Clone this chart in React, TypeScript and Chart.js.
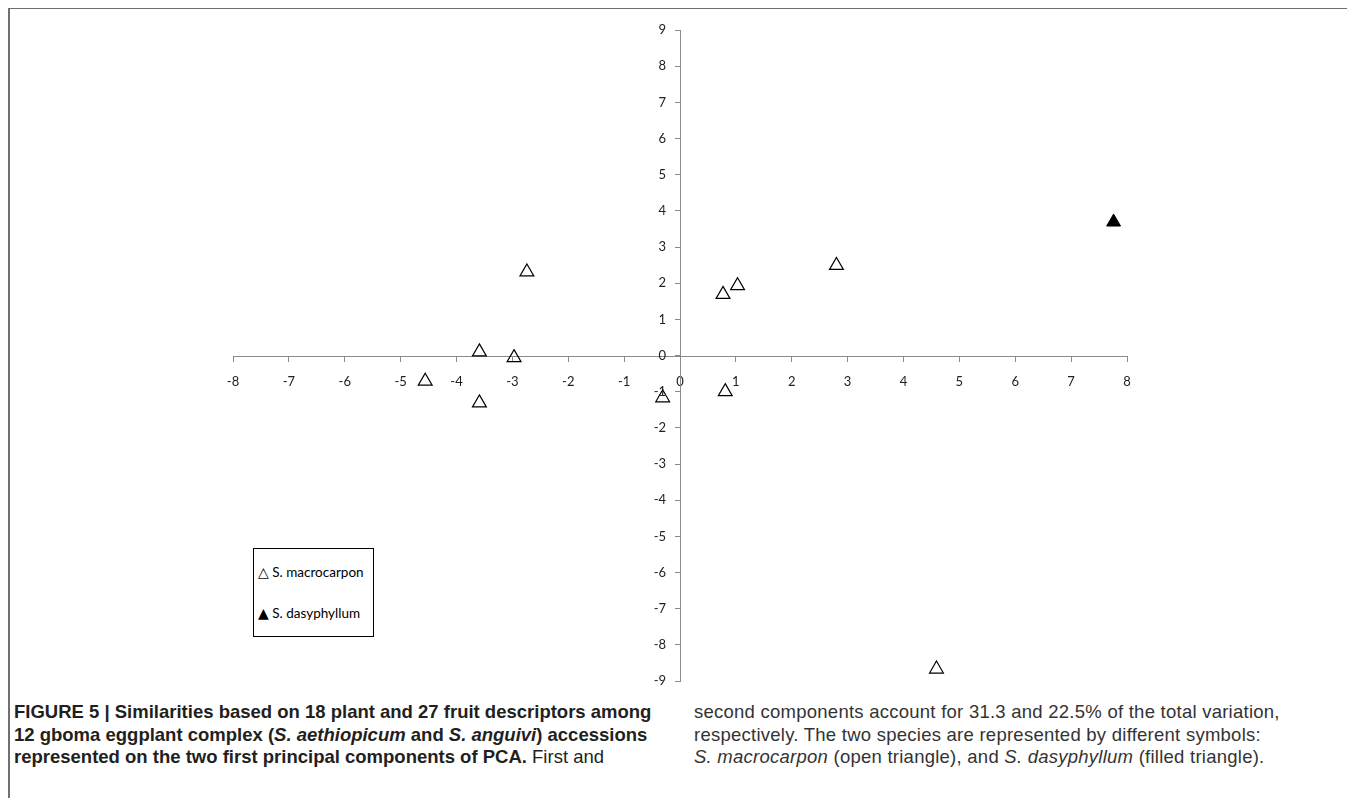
import React, { useEffect, useRef } from "react";
import { Chart, registerables } from "chart.js";

Chart.register(...registerables);

// PCA coordinates (PC1, PC2)
const macrocarponX = [-4.56, -3.59, -3.59, -2.97, -2.74, -0.31, 0.77, 1.03, 0.81, 2.8, 4.59];
const macrocarponY = [-0.71, 0.1, -1.31, -0.06, 2.31, -1.17, 1.69, 1.93, -1.0, 2.49, -8.67];
const dasyphyllumX = [7.76];
const dasyphyllumY = [3.69];

const xMin = -8;
const xMax = 8;
const yMin = -9;
const yMax = 9;

const seriesNames = ["S. macrocarpon", "S. dasyphyllum"];

const toPoints = (xs: number[], ys: number[]) => xs.map((x, i) => ({ x, y: ys[i] }));

function PcaChart() {
  const ref = useRef<HTMLCanvasElement | null>(null);
  useEffect(() => {
    if (!ref.current) return;
    const axisColor = "#8a8a8a";
    const tickFont = { family: "Lato, 'Open Sans', sans-serif", size: 13 };
    const chart = new Chart(ref.current, {
      type: "scatter",
      data: {
        datasets: [
          {
            label: seriesNames[0],
            data: toPoints(macrocarponX, macrocarponY),
            pointStyle: "triangle",
            pointRadius: 8,
            pointBackgroundColor: "rgba(255,255,255,0)",
            pointBorderColor: "#000",
            pointBorderWidth: 1.2,
          },
          {
            label: seriesNames[1],
            data: toPoints(dasyphyllumX, dasyphyllumY),
            pointStyle: "triangle",
            pointRadius: 8,
            pointBackgroundColor: "#000",
            pointBorderColor: "#000",
            pointBorderWidth: 1,
          },
        ],
      },
      options: {
        animation: false,
        responsive: false,
        maintainAspectRatio: false,
        layout: { padding: { left: 40, right: 40, top: 20, bottom: 20 } },
        plugins: { legend: { display: false }, tooltip: { enabled: false } },
        scales: {
          x: {
            type: "linear",
            position: "center",
            min: xMin,
            max: xMax,
            ticks: { stepSize: 1, color: "#222", font: tickFont, padding: 14, maxRotation: 0, autoSkip: false },
            grid: { drawOnChartArea: false, drawTicks: true, tickLength: 5, color: axisColor },
            border: { color: axisColor, width: 1 },
          },
          y: {
            type: "linear",
            position: "center",
            min: yMin,
            max: yMax,
            ticks: { stepSize: 1, color: "#222", font: tickFont, padding: 9, autoSkip: false },
            grid: { drawOnChartArea: false, drawTicks: true, tickLength: 5, color: axisColor },
            border: { color: axisColor, width: 1 },
          },
        },
      },
    });
    return () => chart.destroy();
  }, []);
  return (
    <canvas
      ref={ref}
      width={974}
      height={691}
      style={{ position: "absolute", left: 185, top: 2, width: 974, height: 691 }}
    />
  );
}

export default function App() {
  const captionFont = "'Liberation Sans', Arial, sans-serif";
  const legendFont = "Lato, 'Open Sans', sans-serif";
  const glyph = { fontFamily: "'DejaVu Sans', sans-serif", fontSize: 14 };
  return (
    <div style={{ position: "relative", width: 1339, height: 790, overflow: "visible" }}>
      <div
        style={{
          position: "absolute",
          left: 0,
          top: -1,
          width: 1345,
          height: 820,
          borderTop: "2px solid #707070",
          borderLeft: "2px solid #707070",
          borderRight: "2px solid #555",
          boxSizing: "border-box",
        }}
      />
      <PcaChart />
      <div
        style={{
          position: "absolute",
          left: 245,
          top: 540,
          width: 121,
          height: 89,
          border: "1px solid #000",
          boxSizing: "border-box",
          fontFamily: legendFont,
          fontSize: 13.5,
          color: "#000",
          background: "#fff",
        }}
      >
        <div style={{ position: "absolute", left: 4, top: 15, whiteSpace: "nowrap" }}>
          <span style={glyph}>△</span> {seriesNames[0]}
        </div>
        <div style={{ position: "absolute", left: 4, top: 56, whiteSpace: "nowrap" }}>
          <span style={glyph}>▲</span> {seriesNames[1]}
        </div>
      </div>
      <div
        style={{
          position: "absolute",
          left: 6,
          top: 693,
          width: 660,
          fontFamily: captionFont,
          fontSize: 18.5,
          lineHeight: "22.5px",
          color: "#231f20",
          whiteSpace: "nowrap",
        }}
      >
        <b>FIGURE 5 | Similarities based on 18 plant and 27 fruit descriptors among</b>
        <br />
        <b>
          12 gboma eggplant complex (<i>S. aethiopicum</i> and <i>S. anguivi</i>) accessions
        </b>
        <br />
        <b>represented on the two first principal components of PCA.</b> First and
      </div>
      <div
        style={{
          position: "absolute",
          left: 686,
          top: 693,
          width: 640,
          fontFamily: captionFont,
          fontSize: 18.5,
          letterSpacing: 0.25,
          lineHeight: "22.5px",
          color: "#333",
          whiteSpace: "nowrap",
        }}
      >
        second components account for 31.3 and 22.5% of the total variation,
        <br />
        respectively. The two species are represented by different symbols:
        <br />
        <i>S. macrocarpon</i> (open triangle), and <i>S. dasyphyllum</i> (filled triangle).
      </div>
    </div>
  );
}
